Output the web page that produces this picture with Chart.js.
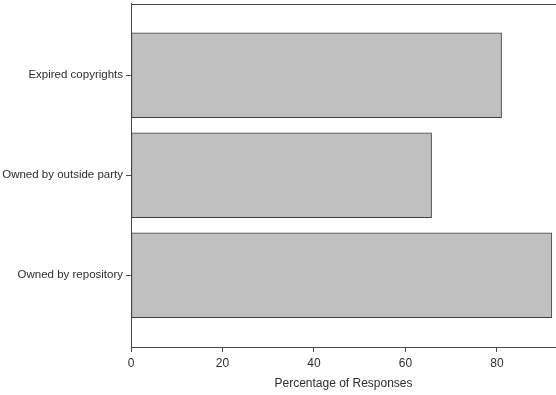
<!DOCTYPE html>
<html>
<head>
<meta charset="utf-8">
<script src="https://cdn.jsdelivr.net/npm/chart.js@4"></script>
<style>
  html, body { margin: 0; padding: 0; background: #fff; }
  #wrap { width: 556px; height: 395px; }
</style>
</head>
<body>
<div id="wrap"><canvas id="chart"></canvas></div>
<script>
// Survey categories (top to bottom) and their percentages
const categories = ['Expired copyrights', 'Owned by outside party', 'Owned by repository'];
const percentages = [81, 65.7, 92];
const xTicks = [0, 20, 40, 60, 80];

const AXIS_COLOR = '#4a4a4a';
const TEXT_COLOR = '#2e2e2e';

// draws the top frame line of the plot area
const topFrame = {
  id: 'topFrame',
  afterDraw(chart) {
    const { ctx, chartArea } = chart;
    ctx.save();
    ctx.strokeStyle = AXIS_COLOR;
    ctx.lineWidth = 1;
    ctx.beginPath();
    ctx.moveTo(chartArea.left, Math.round(chartArea.top) + 0.5);
    ctx.lineTo(chartArea.right, Math.round(chartArea.top) + 0.5);
    ctx.stroke();
    ctx.restore();
  }
};

const ctx = document.getElementById('chart').getContext('2d');
new Chart(ctx, {
  type: 'bar',
  data: {
    datasets: [{
      data: percentages.map((v, i) => ({ x: v, y: i })),
      backgroundColor: '#c0c0c0',
      borderColor: '#404040',
      borderWidth: 1,
      borderSkipped: false,
      barThickness: 85
    }]
  },
  options: {
    indexAxis: 'y',
    responsive: true,
    maintainAspectRatio: false,
    animation: false,
    devicePixelRatio: 1,
    layout: { padding: { top: 3.5, right: 0, left: 0, bottom: 0 } },
    plugins: {
      legend: { display: false },
      tooltip: { enabled: false }
    },
    scales: {
      y: {
        type: 'linear',
        reverse: true,
        offset: false,
        bounds: 'data',
        min: -0.717,
        max: 2.717,
        afterBuildTicks: scale => { scale.ticks = categories.map((c, i) => ({ value: i })); },
        afterFit: scale => {
          scale.width = 131;
          scale.paddingTop = 0;
          scale.paddingBottom = 0;
        },
        grid: { drawOnChartArea: false, offset: false, tickLength: 5, color: AXIS_COLOR },
        border: { color: AXIS_COLOR, width: 1 },
        ticks: {
          color: TEXT_COLOR,
          padding: 3,
          autoSkip: false,
          font: { family: 'Liberation Sans, Arial, sans-serif', size: 11.5 },
          callback: v => categories[v]
        }
      },
      x: {
        type: 'linear',
        min: 0,
        max: 92.9,
        afterBuildTicks: scale => { scale.ticks = xTicks.map(v => ({ value: v })); },
        afterFit: scale => { scale.height = 48; },
        grid: { drawOnChartArea: false, tickLength: 5, color: AXIS_COLOR },
        border: { color: AXIS_COLOR, width: 1 },
        ticks: {
          color: TEXT_COLOR,
          padding: 4,
          maxRotation: 0,
          font: { family: 'Liberation Sans, Arial, sans-serif', size: 12 }
        },
        title: {
          display: true,
          text: 'Percentage of Responses',
          color: TEXT_COLOR,
          padding: { top: 0, bottom: 4 },
          font: { family: 'Liberation Sans, Arial, sans-serif', size: 12 }
        }
      }
    }
  },
  plugins: [topFrame]
});
</script>
</body>
</html>
